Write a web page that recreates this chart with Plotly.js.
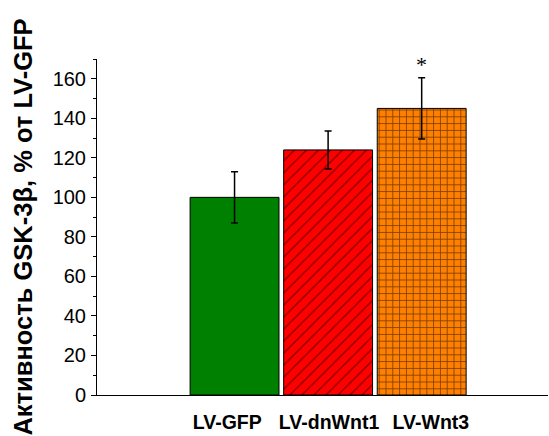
<!DOCTYPE html>
<html>
<head>
<meta charset="utf-8">
<script src="https://cdn.plot.ly/plotly-3.0.1.min.js"></script>
<style>
  html, body { margin: 0; padding: 0; background: #fff; }
  #chart { width: 549px; height: 436px; }
</style>
</head>
<body>
<div id="chart"></div>
<script>
// GSK-3β activity per construct, percent of LV-GFP control
const groups = ["LV-GFP", "LV-dnWnt1", "LV-Wnt3"];
const activity = [100, 124, 145];
const sem = [13, 9.6, 15.5];
const fills = ["#008000", "#ff0000", "#ff8000"];
const patterns = ["", "/", "+"];
const sigMarks = ["", "", "*"];

const xs = groups.map((_, i) => i);
// category labels sit a little wider apart than the bars themselves
const labelSpread = 1.088;
const labelCenter = 1.01;
const labelXs = xs.map(x => labelCenter + (x - 1) * labelSpread);
const font = "Arial, 'Liberation Sans', sans-serif";

const traces = groups.map((g, i) => ({
  type: "bar",
  x: [xs[i]],
  y: [activity[i]],
  width: 0.95,
  marker: {
    color: fills[i],
    line: { color: "#000", width: 1 },
    pattern: {
      shape: patterns[i],
      fgcolor: "#000",
      bgcolor: fills[i],
      size: i === 1 ? 8.5 : 6.8,
      solidity: i === 1 ? 0.14 : 0.24,
      fillmode: "overlay"
    }
  },
  error_y: {
    type: "data",
    array: [sem[i]],
    visible: true,
    color: "#000",
    thickness: 1.5,
    width: 3.5
  },
  hoverinfo: "skip",
  showlegend: false
}));

const annotations = sigMarks
  .map((s, i) => ({ s, i }))
  .filter(d => d.s)
  .map(d => ({
    x: xs[d.i],
    y: activity[d.i] + sem[d.i],
    yshift: 13,
    text: d.s,
    showarrow: false,
    font: { family: "'Liberation Serif', 'Times New Roman', serif", size: 22, color: "#000" }
  }));

const layout = {
  width: 549,
  height: 436,
  margin: { l: 97, r: 1, t: 59, b: 41 },
  paper_bgcolor: "#fff",
  plot_bgcolor: "#fff",
  font: { family: font, color: "#000" },
  bargap: 0,
  xaxis: {
    range: [-1.47, 3.35],
    tickvals: labelXs,
    ticktext: groups,
    showline: true,
    linecolor: "#000",
    linewidth: 1,
    ticks: "",
    showgrid: false,
    zeroline: false,
    ticklabelstandoff: 10,
    tickfont: { family: font, size: 19.5, color: "#000", weight: "bold" },
    fixedrange: true
  },
  yaxis: {
    range: [0, 170],
    dtick: 20,
    tick0: 0,
    showline: true,
    linecolor: "#000",
    linewidth: 1,
    ticks: "outside",
    ticklen: 5,
    tickcolor: "#000",
    minor: { dtick: 10, ticks: "outside", ticklen: 3, tickcolor: "#000" },
    showgrid: false,
    zeroline: false,
    ticklabelstandoff: 1,
    tickfont: { family: font, size: 20, color: "#000" },
    title: {
      text: "Активность GSK-3β, % от LV-GFP",
      font: { family: font, size: 25.5, color: "#000", weight: "bold" },
      standoff: 12
    },
    automargin: false,
    fixedrange: true
  },
  annotations: annotations
};

Plotly.newPlot("chart", traces, layout, { displayModeBar: false, staticPlot: true });
</script>
</body>
</html>
